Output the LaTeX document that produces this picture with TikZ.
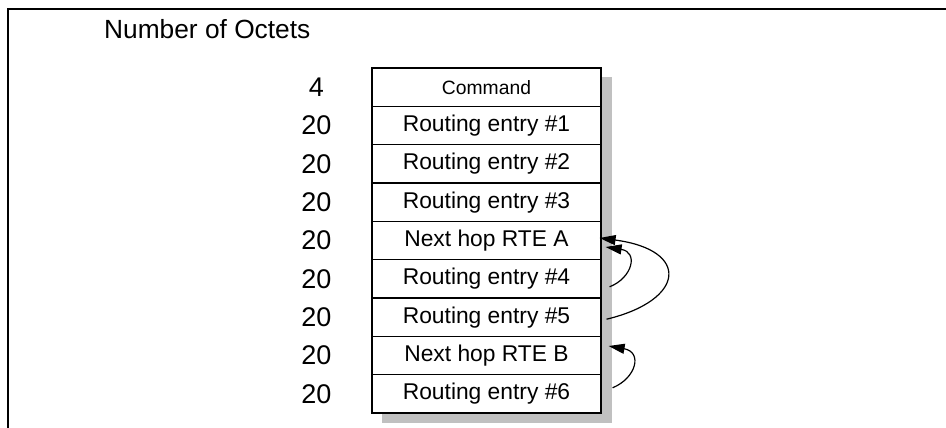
\documentclass[tikz,border=0pt]{standalone}
\usepackage{fontspec}
\setmainfont{Liberation Sans}
\usetikzlibrary{arrows.meta}
\definecolor{shadowgray}{HTML}{C0C0C0}
\tikzset{
  rowbox/.style={draw=black, line width=1.2pt, fill=white, inner sep=0pt,
    minimum width=229pt, minimum height=38.33pt,
    font=\fontsize{22.8}{26}\selectfont},
  numlabel/.style={inner sep=0pt, anchor=center, font=\fontsize{27}{30}\selectfont},
  link/.style={line width=1.2pt, -{Triangle[length=16pt,width=10pt]}},
}
\begin{document}
\begin{tikzpicture}[x=1pt,y=-1pt]
\useasboundingbox (0,0) rectangle (946,428);
% open frame
\draw[line width=1.2pt] (8,428) -- (8,9) -- (946,9);
% heading
\node[anchor=base west, inner sep=0pt, font=\fontsize{26.3}{30}\selectfont] (head) at (104,39) {Number of Octets};
% shadow
\fill[shadowgray] (382,77) rectangle (612,423);
% rows
\node[rowbox, font=\fontsize{19.3}{22}\selectfont] (r0) at (486.5, 87.17) {Command};
\node[rowbox] (r1) at (486.5, 125.5) {Routing entry \#1};
\node[rowbox] (r2) at (486.5, 163.8) {Routing entry \#2};
\node[rowbox] (r3) at (486.5, 202.2) {Routing entry \#3};
\node[rowbox] (r4) at (486.5, 240.5) {Next hop RTE A};
\node[rowbox] (r5) at (486.5, 278.8) {Routing entry \#4};
\node[rowbox] (r6) at (486.5, 317.2) {Routing entry \#5};
\node[rowbox] (r7) at (486.5, 355.5) {Next hop RTE B};
\node[rowbox] (r8) at (486.5, 393.8) {Routing entry \#6};
% octet counts
\node[numlabel] (n0) at (316.5, 87.17) {4};
\node[numlabel] (n1) at (316.5, 125.5) {20};
\node[numlabel] (n2) at (316.5, 163.8) {20};
\node[numlabel] (n3) at (316.5, 202.2) {20};
\node[numlabel] (n4) at (316.5, 240.5) {20};
\node[numlabel] (n5) at (316.5, 278.8) {20};
\node[numlabel] (n6) at (316.5, 317.2) {20};
\node[numlabel] (n7) at (316.5, 355.5) {20};
\node[numlabel] (n8) at (316.5, 393.8) {20};
% links
\draw[link] ([xshift=5pt,yshift=-2pt]r6.east) .. controls +(79,-19) and +(91,12) .. ([xshift=-2pt,yshift=2.5pt]r4.east);
\draw[link] ([xshift=8pt,yshift=-8pt]r5.east) .. controls +(23,-9) and +(33,5) .. ([xshift=4pt,yshift=-6.5pt]r4.east);
\draw[link] ([xshift=11pt,yshift=6pt]r8.east) .. controls +(24,-10) and +(34,6) .. ([xshift=7pt,yshift=9.5pt]r7.east);
\end{tikzpicture}
\end{document}
